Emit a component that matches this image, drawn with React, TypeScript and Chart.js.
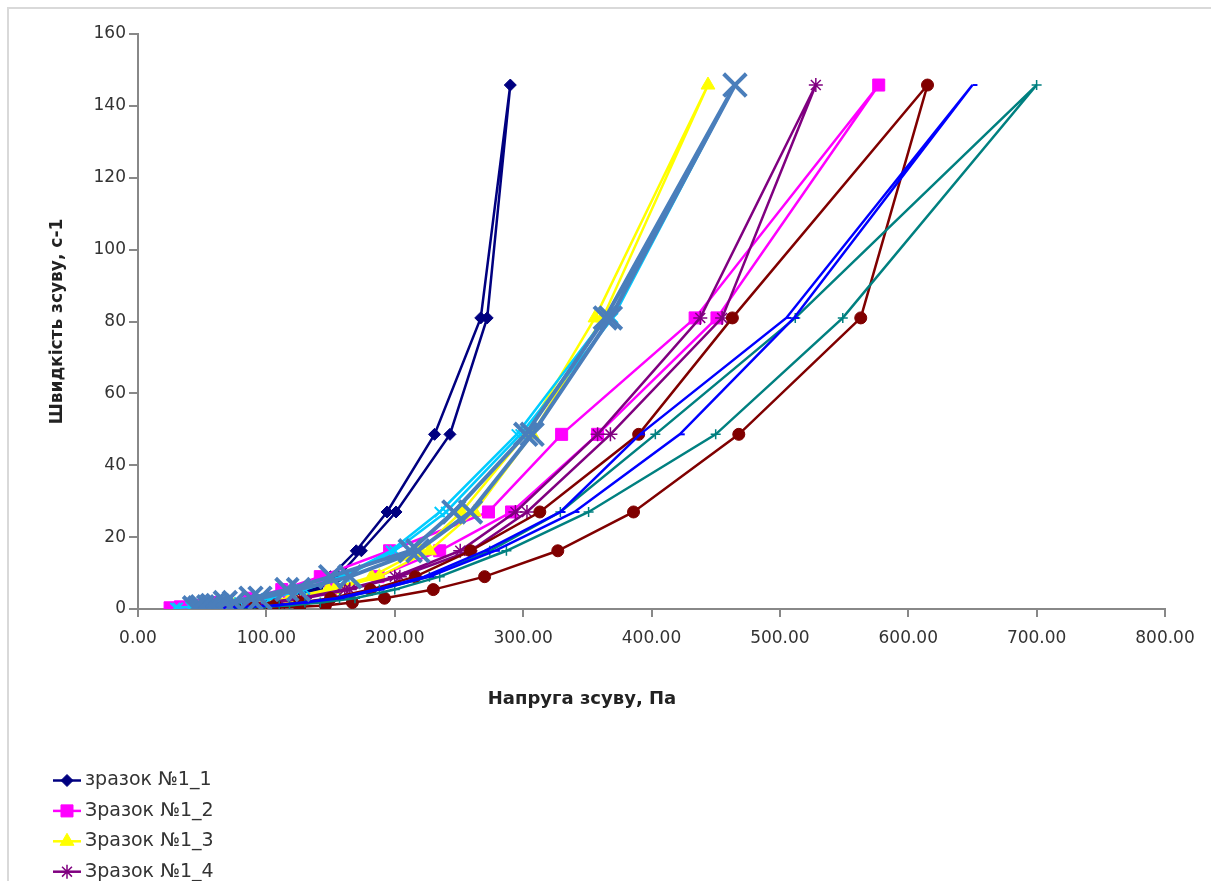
import React, { useEffect, useRef } from 'react';
import { Chart, registerables } from 'chart.js';
import { drawPoint } from 'chart.js/helpers';

Chart.register(...registerables);

// Shear rates (s-1): ascending branch and descending branch
const SHEAR_UP = [0.333, 0.6, 1, 1.8, 3, 5.4, 9, 16.2, 27, 48.6, 81, 145.8];
const SHEAR_DOWN = [81, 48.6, 27, 16.2, 9, 5.4, 3, 1.8, 1, 0.6, 0.333];

// Shear stress (Pa) for each sample, up then down
const S1_UP = [79, 91, 103, 114, 126, 140, 156, 174, 201, 243, 272, 290];
const S1_DOWN = [267, 231, 194, 170, 150, 134, 120, 107, 95, 83, 71];
const S2_UP = [35, 50, 68, 92, 118, 150, 187, 235, 291, 358, 451, 577];
const S2_DOWN = [434, 330, 273, 196, 142, 112, 86, 60, 44, 33, 25];
const S3_UP = [48, 64, 79, 99, 122, 153, 188, 227, 262, 307, 362, 444];
const S3_DOWN = [356, 302, 252, 220, 182, 148, 118, 95, 75, 60, 44];
const S4_UP = [48, 68, 87, 107, 130, 165, 204, 259, 303, 368, 455, 528];
const S4_DOWN = [438, 358, 294, 251, 200, 161, 126, 100, 80, 62, 45];
const S5_UP = [31, 44, 60, 79, 103, 130, 161, 200, 240, 298, 370, 465];
const S5_DOWN = [364, 295, 235, 197, 158, 127, 100, 76, 57, 41, 29];
const S6_UP = [103, 126, 146, 167, 192, 230, 270, 327, 386, 468, 563, 615];
const S6_DOWN = [463, 390, 313, 259, 216, 181, 150, 126, 107, 91, 76];
const S7_UP = [79, 99, 118, 142, 169, 200, 235, 287, 351, 450, 549, 700];
const S7_DOWN = [512, 403, 329, 274, 227, 188, 157, 130, 110, 91, 72];
const S8_UP = [68, 87, 107, 130, 157, 188, 227, 278, 340, 422, 511, 650];
const S8_DOWN = [505, 391, 329, 270, 223, 185, 154, 128, 105, 85, 66];
const S9_UP = [48, 55, 62, 75, 95, 125, 165, 218, 259, 307, 368, 465];
const S9_DOWN = [364, 302, 246, 212, 150, 116, 88, 68, 58, 50, 44];

const SERIES_NAMES = [
  'зразок №1_1',
  'Зразок №1_2',
  'Зразок №1_3',
  'Зразок №1_4',
  'Зразок №1_5',
  'Зразок №1_6',
  'Зразок №1_7',
  'Зразок №1_8',
  'Зразок №1_9',
];
const SERIES_UP = [S1_UP, S2_UP, S3_UP, S4_UP, S5_UP, S6_UP, S7_UP, S8_UP, S9_UP];
const SERIES_DOWN = [S1_DOWN, S2_DOWN, S3_DOWN, S4_DOWN, S5_DOWN, S6_DOWN, S7_DOWN, S8_DOWN, S9_DOWN];

const X_AXIS_TITLE = 'Напруга зсуву, Па';
const Y_AXIS_TITLE = 'Швидкість зсуву, с-1';

const STYLES = [
  { color: '#000080', point: 'rectRot', radius: 6, lw: 2.5, pbw: 1 },
  { color: '#FF00FF', point: 'rect', radius: 8.5, lw: 2.5, pbw: 1 },
  { color: '#FFFF00', point: 'triangle', radius: 8, lw: 2.5, pbw: 1 },
  { color: '#800080', point: 'star', radius: 7, lw: 2.5, pbw: 1.5 },
  { color: '#00CCFF', point: 'crossRot', radius: 7, lw: 2.5, pbw: 2 },
  { color: '#800000', point: 'circle', radius: 6, lw: 2.5, pbw: 1 },
  { color: '#008080', point: 'cross', radius: 5, lw: 2.5, pbw: 1.5 },
  { color: '#0000FF', point: 'dash', radius: 5, lw: 2.5, pbw: 2 },
  { color: '#4A7EBB', point: 'crossRot', radius: 16, lw: 4, pbw: 4 },
];

const FONT = '"DejaVu Sans", Verdana, sans-serif';

const excelPlugin = {
  id: 'excelExtras',
  beforeDraw(chart: any) {
    const ctx = chart.ctx;
    ctx.save();
    ctx.fillStyle = '#ffffff';
    ctx.fillRect(0, 0, chart.width, chart.height);
    ctx.strokeStyle = '#d9d9d9';
    ctx.lineWidth = 2;
    ctx.strokeRect(8, 8, chart.width + 20, chart.height + 20);
    ctx.restore();
  },
  afterDraw(chart: any) {
    const ctx = chart.ctx;
    ctx.save();
    ctx.fillStyle = '#222';
    ctx.font = 'bold 18px ' + FONT;
    ctx.textAlign = 'center';
    ctx.textBaseline = 'middle';
    ctx.fillText(X_AXIS_TITLE, 582, 699);

    chart.data.datasets.forEach((ds: any, i: number) => {
      const y = 780.5 + i * 30.4;
      ctx.save();
      ctx.strokeStyle = ds.borderColor;
      ctx.lineWidth = Math.min(ds.borderWidth, 3);
      ctx.beginPath();
      ctx.moveTo(53, y);
      ctx.lineTo(81, y);
      ctx.stroke();
      ctx.fillStyle = ds.pointBackgroundColor;
      ctx.strokeStyle = ds.pointBorderColor;
      ctx.lineWidth = ds.pointBorderWidth;
      drawPoint(ctx, { pointStyle: ds.pointStyle, radius: Math.min(ds.pointRadius, 9), borderWidth: ds.pointBorderWidth, rotation: 0 } as any, 67, y);
      ctx.fillStyle = '#333';
      ctx.font = '19px ' + FONT;
      ctx.textAlign = 'left';
      ctx.textBaseline = 'middle';
      ctx.fillText(ds.label, 85, y);
      ctx.restore();
    });
    ctx.restore();
  },
};

export default function App() {
  const ref = useRef<HTMLCanvasElement>(null);

  useEffect(() => {
    if (!ref.current) return;
    Chart.defaults.font.family = FONT;
    const datasets = SERIES_NAMES.map((name, i) => {
      const st = STYLES[i];
      const data = [
        ...SERIES_UP[i].map((x, k) => ({ x, y: SHEAR_UP[k] })),
        ...SERIES_DOWN[i].map((x, k) => ({ x, y: SHEAR_DOWN[k] })),
      ];
      return {
        label: name,
        data,
        showLine: true,
        tension: 0,
        borderColor: st.color,
        backgroundColor: st.color,
        borderWidth: st.lw,
        pointStyle: st.point,
        pointRadius: st.radius,
        pointBackgroundColor: st.color,
        pointBorderColor: st.color,
        pointBorderWidth: st.pbw,
        order: -i,
      };
    });

    const axisColor = '#888888';
    const chart = new Chart(ref.current, {
      type: 'scatter',
      data: { datasets } as any,
      plugins: [excelPlugin],
      options: {
        responsive: false,
        animation: false,
        devicePixelRatio: 1,
        layout: { padding: { left: 0, top: 34, right: 46, bottom: 0 } },
        plugins: {
          legend: { display: false },
          tooltip: { enabled: false },
          title: { display: false },
        },
        scales: {
          x: {
            type: 'linear',
            min: 0,
            max: 800,
            ticks: {
              stepSize: 100,
              autoSkip: false,
              maxRotation: 0,
              color: '#333',
              font: { size: 17 },
              padding: 11,
              callback: (v: any) => Number(v).toFixed(2),
            },
            grid: { drawOnChartArea: false, drawTicks: true, tickLength: 8, color: axisColor, lineWidth: 2 },
            border: { display: true, color: axisColor, width: 2 },
            afterFit: (s: any) => {
              s.height = 272;
            },
          },
          y: {
            type: 'linear',
            min: 0,
            max: 160,
            ticks: { stepSize: 20, color: '#333', font: { size: 17 }, padding: 3 },
            grid: { drawOnChartArea: false, drawTicks: true, tickLength: 9, color: axisColor, lineWidth: 2 },
            border: { display: true, color: axisColor, width: 2 },
            title: {
              display: true,
              text: Y_AXIS_TITLE,
              color: '#222',
              font: { size: 17, weight: 'bold' },
              padding: { top: 47, bottom: 0 },
            },
            afterFit: (s: any) => {
              s.width = 138;
            },
          },
        },
      } as any,
    });
    return () => chart.destroy();
  }, []);

  return (
    <div style={{ position: 'fixed', left: 0, top: 0, width: 1211, height: 881, overflow: 'hidden', background: '#fff' }}>
      <canvas ref={ref} width={1211} height={881} style={{ width: 1211, height: 881, display: 'block' }} />
    </div>
  );
}
